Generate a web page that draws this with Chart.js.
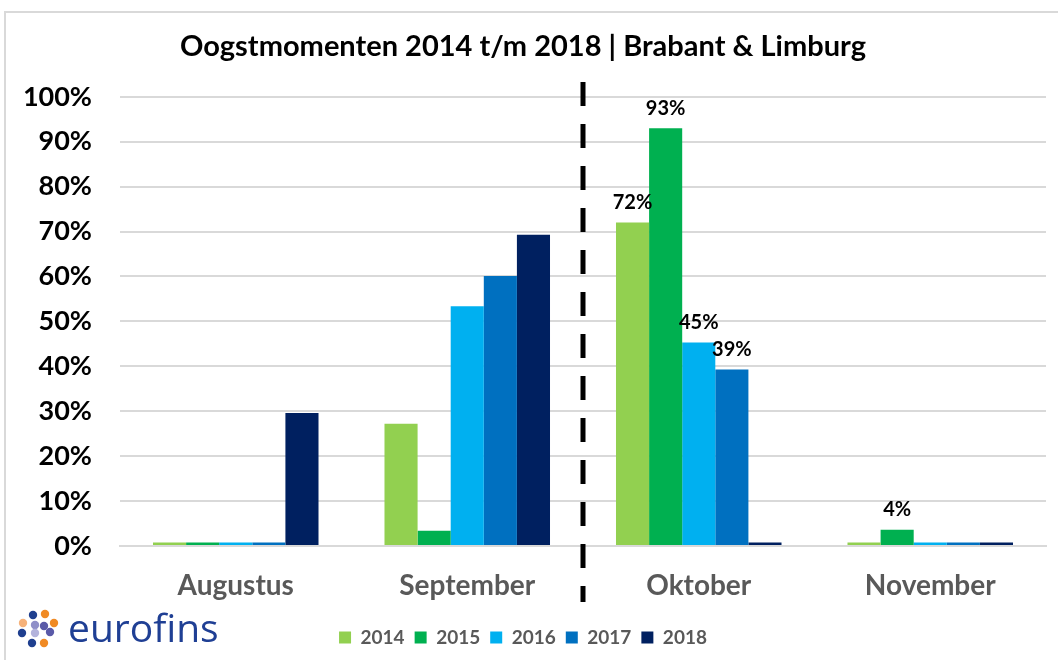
<!DOCTYPE html>
<html>
<head>
<meta charset="utf-8">
<script src="https://cdn.jsdelivr.net/npm/chart.js@4/dist/chart.umd.min.js"></script>
<style>
  html, body { margin: 0; padding: 0; background: #fff; }
  #wrap { width: 1058px; height: 660px; position: relative; }
</style>
</head>
<body>
<div id="wrap"><canvas id="oogst"></canvas></div>
<script>
const months = ['Augustus', 'September', 'Oktober', 'November'];
const years = ['2014', '2015', '2016', '2017', '2018'];
const colors = ['#92D050', '#00B050', '#00B0F0', '#0070C0', '#002060'];

const v2014 = [0.8, 27.2, 72, 0.8];
const v2015 = [0.8, 3.4, 93, 3.6];
const v2016 = [0.8, 53.4, 45.3, 0.8];
const v2017 = [0.8, 60.1, 39.3, 0.8];
const v2018 = [29.6, 69.3, 0.8, 0.8];

// labels shown above a few bars only
const lbl2014 = [null, null, '72%', null];
const lbl2015 = [null, null, '93%', '4%'];
const lbl2016 = [null, null, '45%', null];
const lbl2017 = [null, null, '39%', null];
const lbl2018 = [null, null, null, null];

const yTicks = [0, 10, 20, 30, 40, 50, 60, 70, 80, 90, 100];

const values = [v2014, v2015, v2016, v2017, v2018];
const barLabels = [lbl2014, lbl2015, lbl2016, lbl2017, lbl2018];

const FONT = 'Lato, "Open Sans", sans-serif';

const frame = {
    id: 'frame',
    beforeDraw(chart) {
        const ctx = chart.ctx;
        ctx.save();
        ctx.strokeStyle = '#d9d9d9';
        ctx.lineWidth = 2;
        ctx.strokeRect(5, 12, 1100, 700);
        ctx.restore();
    }
};

const extras = {
    id: 'extras',
    afterDatasetsDraw(chart) {
        const ctx = chart.ctx;
        const x = chart.scales.x;
        ctx.save();
        // dashed divider between September and Oktober
        const xd = (x.getPixelForValue(1) + x.getPixelForValue(2)) / 2;
        ctx.strokeStyle = '#000';
        ctx.lineWidth = 5;
        ctx.setLineDash([24, 18]);
        ctx.beginPath();
        ctx.moveTo(xd, 82);
        ctx.lineTo(xd, 602);
        ctx.stroke();
        ctx.setLineDash([]);

        // data labels
        ctx.fillStyle = '#000';
        ctx.font = 'bold 20px ' + FONT;
        ctx.textAlign = 'center';
        ctx.textBaseline = 'bottom';
        barLabels.forEach((arr, di) => {
            const meta = chart.getDatasetMeta(di);
            arr.forEach((t, i) => {
                if (!t) return;
                const el = meta.data[i];
                ctx.fillText(t, el.x, el.y - 10);
            });
        });

        // eurofins logo
        const dots = [
            [33, 615, '#1f3f8f'], [45, 614, '#f08a24'], [23, 623, '#f6b27a'],
            [54, 623, '#f08a24'], [35, 625, '#8f8fc8'], [44, 626, '#5a5aa8'],
            [22, 633, '#1f3f8f'], [35, 633, '#b3b3dc'], [50, 632, '#5a5aa8'],
            [32, 643, '#1f3f8f'], [44, 643, '#f08a24']
        ];
        dots.forEach(d => {
            ctx.fillStyle = d[2];
            ctx.beginPath();
            ctx.arc(d[0], d[1], 4.2, 0, Math.PI * 2);
            ctx.fill();
        });
        ctx.fillStyle = '#1f3f94';
        ctx.font = '39px "Open Sans", sans-serif';
        ctx.textAlign = 'left';
        ctx.textBaseline = 'alphabetic';
        ctx.fillText('eurofins', 68, 642);
        ctx.restore();
    }
};

new Chart(document.getElementById('oogst'), {
    type: 'bar',
    data: {
        labels: months,
        datasets: years.map((y, i) => ({
            label: y,
            data: values[i],
            backgroundColor: colors[i],
            borderWidth: 0,
            categoryPercentage: 0.715,
            barPercentage: 1
        }))
    },
    options: {
        responsive: true,
        maintainAspectRatio: false,
        animation: false,
        layout: { padding: { left: 0, right: 12, top: 0, bottom: 3 } },
        plugins: {
            title: {
                display: true,
                text: 'Oogstmomenten 2014 t/m 2018 | Brabant & Limburg',
                color: '#000',
                font: { family: FONT, size: 29, weight: 'bold' },
                padding: { top: 29, bottom: 33 }
            },
            legend: {
                position: 'bottom',
                labels: {
                    color: '#595959',
                    font: { family: FONT, size: 19, weight: 'bold' },
                    boxWidth: 12,
                    boxHeight: 12,
                    padding: 10
                }
            },
            tooltip: { enabled: false }
        },
        scales: {
            x: {
                grid: { display: false, drawTicks: false },
                border: { display: true, color: '#d9d9d9', width: 2 },
                ticks: {
                    color: '#595959',
                    padding: 23,
                    font: { family: FONT, size: 28, weight: 'bold' }
                },
                afterFit: (s) => { s.height = 72; }
            },
            y: {
                min: 0,
                max: 100,
                afterBuildTicks: (s) => { s.ticks = yTicks.map(v => ({ value: v })); },
                grid: { color: '#d9d9d9', lineWidth: 2, drawTicks: false },
                border: { display: false },
                ticks: {
                    color: '#000',
                    padding: 28,
                    font: { family: FONT, size: 27, weight: 'bold' },
                    callback: (v) => v + '%'
                },
                afterFit: (s) => { s.width = 120; }
            }
        }
    },
    plugins: [frame, extras]
});
</script>
</body>
</html>
